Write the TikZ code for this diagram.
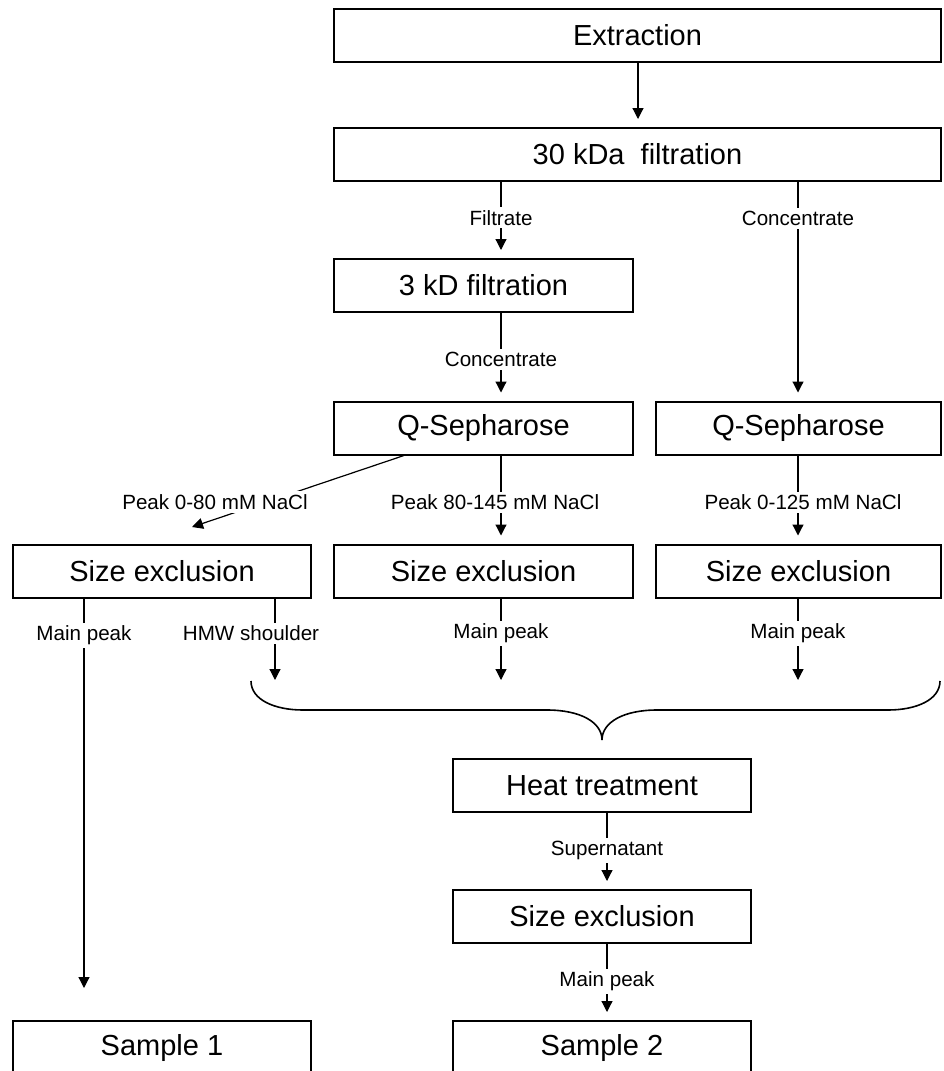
\documentclass[tikz,border=0pt]{standalone}
\usepackage{fontspec}
\setmainfont{Liberation Sans}
\usetikzlibrary{arrows.meta}

\begin{document}
\begin{tikzpicture}[x=0.5pt, y=-0.5pt, >={Triangle[length=5.5pt, width=5.5pt]},
    box/.style={draw, line width=1pt, minimum height=26.5pt, inner sep=0pt, font=\fontsize{14.5}{17}\selectfont},
    lbl/.style={fill=white, inner sep=1.5pt, font=\fontsize{10.3}{12}\selectfont},
    flow/.style={->, line width=0.6pt, shorten >=4pt}]
  \useasboundingbox (0,0) rectangle (943,1071);
  % columns of the connectors
  \coordinate (colL) at (84,0);
  \coordinate (colH) at (275,0);
  \coordinate (colQ) at (404,0);
  \coordinate (colA) at (501,0);
  \coordinate (colS) at (607,0);
  \coordinate (colE) at (638,0);
  \coordinate (colB) at (798,0);
  \coordinate (brTop) at (0,680);
  % process steps
  \node[box, minimum width=303.5pt] (extr)  at (637.5,35.5)  {Extraction};
  \node[box, minimum width=303.5pt] (kda30) at (637.5,154.5) {30 kDa~ filtration};
  \node[box, minimum width=149.5pt] (kd3)   at (483.5,285.5) {3 kD filtration};
  \node[box, minimum width=149.5pt] (qsL)   at (483.5,428)   {Q-Sepharose};
  \node[box, minimum width=142.5pt] (qsR)   at (798.5,428)   {Q-Sepharose};
  \node[box, minimum width=149pt]   (seL)   at (162,571)     {Size exclusion};
  \node[box, minimum width=149.5pt] (seM)   at (483.5,571)   {Size exclusion};
  \node[box, minimum width=142.5pt] (seR)   at (798.5,571)   {Size exclusion};
  \node[box, minimum width=149pt]   (heat)  at (602,785.5)   {Heat treatment};
  \node[box, minimum width=149pt]   (seB)   at (602,916.5)   {Size exclusion};
  \node[box, minimum width=149pt]   (smp1)  at (162,1047.5)  {Sample 1};
  \node[box, minimum width=149pt]   (smp2)  at (602,1047.5)  {Sample 2};
  % upper part
  \draw[flow] (extr.south -| colE) -- (kda30.north -| colE);
  \draw[flow] (kda30.south -| colA) -- node[lbl, pos=0.47] {Filtrate} (kd3.north -| colA);
  \draw[flow] (kda30.south -| colB) -- node[lbl, pos=0.167] {Concentrate} (qsR.north -| colB);
  \draw[flow] (kd3.south -| colA) -- node[lbl, pos=0.53] {Concentrate} (qsL.north -| colA);
  % ion exchange fractions
  \coordinate (dEnd) at (192,527);
  \draw[flow, shorten >=0pt] (qsL.south -| colQ) -- (dEnd);
  \node[lbl] (pk080) at (215,502) {Peak 0-80 mM NaCl};
  \draw[flow] (qsL.south -| colA) -- node[lbl, pos=0.53, xshift=-3pt] {Peak 80-145 mM NaCl} (seM.north -| colA);
  \draw[flow] (qsR.south -| colB) -- node[lbl, pos=0.53, xshift=2.5pt] {Peak 0-125 mM NaCl} (seR.north -| colB);
  % size exclusion fractions
  \draw[flow, shorten >=16pt] (seL.south -| colL) -- node[lbl, pos=0.087] {Main peak} (smp1.north -| colL);
  \draw[flow, shorten >=0pt] (seL.south -| colH) -- node[lbl, pos=0.43, xshift=-12pt] {HMW shoulder} (brTop -| colH);
  \draw[flow, shorten >=0pt] (seM.south -| colA) -- node[lbl, pos=0.43] {Main peak} (brTop -| colA);
  \draw[flow, shorten >=0pt] (seR.south -| colB) -- node[lbl, pos=0.43] {Main peak} (brTop -| colB);
  % pooled fractions
  \draw[line width=0.8pt] (251,681) .. controls (251,700) and (275,710) .. (303,710) -- (547,710)
    .. controls (580,710) and (602,722) .. (602,740) .. controls (602,722) and (624,710) .. (657,710)
    -- (888,710) .. controls (916,710) and (940,700) .. (940,681);
  \draw[flow] (heat.south -| colS) -- node[lbl, pos=0.49] {Supernatant} (seB.north -| colS);
  \draw[flow] (seB.south -| colS) -- node[lbl, pos=0.49] {Main peak} (smp2.north -| colS);
\end{tikzpicture}
\end{document}
